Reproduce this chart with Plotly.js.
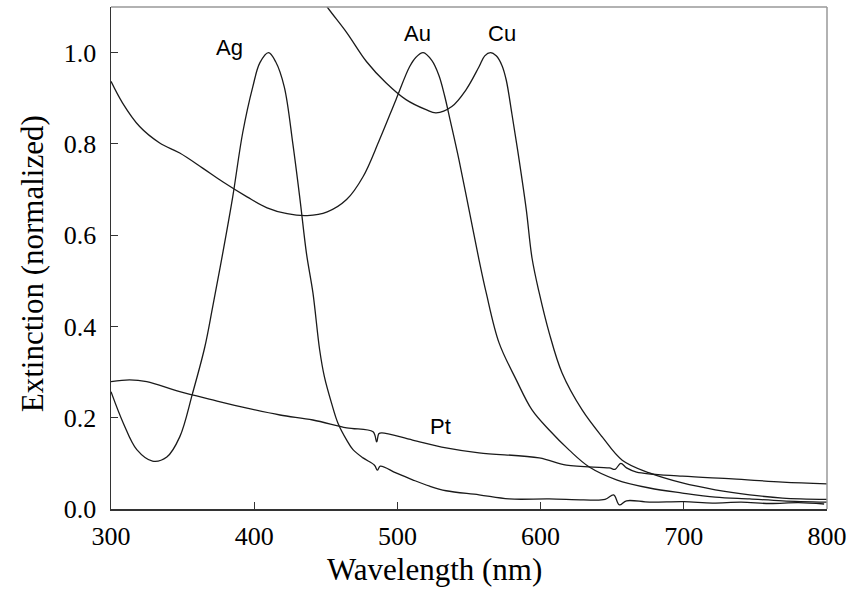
<!DOCTYPE html>
<html>
<head>
<meta charset="utf-8">
<script src="https://cdn.plot.ly/plotly-3.0.1.min.js"></script>
<style>html,body{margin:0;padding:0;background:#fff;}#chart{width:850px;height:594px;}</style>
</head>
<body>
<div id="chart"></div>
<script>
// Wavelength (nm) and normalized extinction for each metal
const agX = [300, 308.6, 318, 329, 339, 348, 357, 365.5, 371, 378, 385, 392, 399, 404, 410, 415, 421, 427, 432, 436.5, 441, 445.7, 449, 454, 458.5, 464.6, 469, 476, 484, 486, 488, 499, 510.6, 522.5, 534, 557, 578, 606, 630, 645, 651, 655, 660, 676, 700, 720, 740, 760, 780, 798];
const agY = [0.257, 0.188, 0.13, 0.105, 0.114, 0.158, 0.254, 0.355, 0.443, 0.56, 0.684, 0.825, 0.925, 0.978, 1.0, 0.98, 0.925, 0.80, 0.678, 0.56, 0.474, 0.349, 0.29, 0.232, 0.188, 0.151, 0.13, 0.112, 0.096, 0.085, 0.094, 0.079, 0.064, 0.05, 0.04, 0.031, 0.022, 0.022, 0.02, 0.021, 0.031, 0.009, 0.018, 0.015, 0.016, 0.013, 0.015, 0.012, 0.014, 0.011];

const auX = [300, 308, 320, 334, 348, 364, 378, 395, 409, 423, 437, 451, 464.5, 476, 487.5, 499, 508.5, 513, 518, 524, 529, 533, 537, 543, 550, 557, 562, 571, 583, 594, 606, 620, 634, 653, 676, 699, 722, 746, 769, 800];
const auY = [0.937, 0.89, 0.838, 0.802, 0.78, 0.747, 0.717, 0.684, 0.66, 0.647, 0.643, 0.651, 0.678, 0.728, 0.809, 0.897, 0.969, 0.99, 1.0, 0.983, 0.95, 0.905, 0.85, 0.765, 0.656, 0.546, 0.474, 0.364, 0.283, 0.217, 0.173, 0.129, 0.092, 0.064, 0.046, 0.035, 0.026, 0.022, 0.018, 0.015];

const cuX = [440, 451, 464.6, 478.5, 492, 506, 520, 527, 538, 548, 557, 561, 565, 569, 573, 576, 580, 585, 590, 594, 599, 606, 615, 629, 643, 657, 676, 699, 722, 746, 769, 800];
const cuY = [1.15, 1.10, 1.044, 0.98, 0.934, 0.897, 0.875, 0.868, 0.882, 0.919, 0.969, 0.993, 1.0, 0.993, 0.972, 0.94, 0.865, 0.765, 0.656, 0.55, 0.474, 0.386, 0.298, 0.217, 0.158, 0.107, 0.079, 0.057, 0.042, 0.031, 0.024, 0.021];

const ptX = [300, 313, 325, 348, 371, 395, 418, 441, 464.6, 483, 485.5, 487, 489, 510.6, 534, 557, 599, 618, 648, 652, 656, 660, 667, 699, 734, 769, 800];
const ptY = [0.279, 0.283, 0.279, 0.257, 0.239, 0.221, 0.206, 0.195, 0.178, 0.169, 0.147, 0.165, 0.167, 0.151, 0.134, 0.123, 0.112, 0.096, 0.09, 0.087, 0.10, 0.09, 0.081, 0.072, 0.066, 0.059, 0.055];

const labels = ["Ag", "Au", "Cu", "Pt"];
const labelX = [383, 514, 573, 530];
const labelY = [1.011, 1.042, 1.042, 0.18];

const xTicks = [300, 400, 500, 600, 700, 800];
const yTicks = [0.0, 0.2, 0.4, 0.6, 0.8, 1.0];

const lineStyle = {color: '#1a1a1a', width: 1.3, shape: 'spline', smoothing: 1};
const traces = [
  {x: agX, y: agY, name: 'Ag'},
  {x: auX, y: auY, name: 'Au'},
  {x: cuX, y: cuY, name: 'Cu'},
  {x: ptX, y: ptY, name: 'Pt'}
].map(t => Object.assign(t, {type: 'scatter', mode: 'lines', line: lineStyle, hoverinfo: 'skip'}));

const serif = 'Liberation Serif, Times New Roman, serif';
const annotations = labels.map((t, i) => ({
  x: labelX[i], y: labelY[i], xref: 'x', yref: 'y', text: t, showarrow: false,
  font: {family: 'Liberation Sans, Arial, sans-serif', size: 22, color: '#000'}
}));
annotations.push({
  x: 0.4525, y: -0.1215, xref: 'paper', yref: 'paper', xanchor: 'center', yanchor: 'middle',
  text: 'Wavelength (nm)', showarrow: false, font: {family: serif, size: 31, color: '#000'}
});
annotations.push({
  x: -0.110, y: 0.488, xref: 'paper', yref: 'paper', xanchor: 'center', yanchor: 'middle', textangle: -90,
  text: 'Extinction (normalized)', showarrow: false, font: {family: serif, size: 31, color: '#000'}
});

const layout = {
  width: 850, height: 594,
  margin: {l: 111, r: 23, t: 7, b: 85},
  paper_bgcolor: '#fff', plot_bgcolor: '#fff',
  showlegend: false,
  xaxis: {
    range: [300, 800], tickvals: xTicks, ticktext: xTicks.map(String),
    showgrid: false, zeroline: false, showline: true, linecolor: '#333', linewidth: 1.5,
    ticks: 'inside', ticklen: 7, tickcolor: '#333', tickwidth: 1, ticklabelstandoff: 3,
    tickfont: {family: serif, size: 26, color: '#000'}
  },
  yaxis: {
    range: [0, 1.1], tickvals: yTicks, ticktext: yTicks.map(v => v.toFixed(1)),
    showgrid: false, zeroline: false, showline: true, linecolor: '#333', linewidth: 1.5,
    ticks: 'inside', ticklen: 7, tickcolor: '#333', tickwidth: 1, ticklabelstandoff: 8,
    tickfont: {family: serif, size: 26, color: '#000'}
  },
  shapes: [
    {type: 'line', xref: 'paper', yref: 'paper', x0: 0, x1: 1, y0: 1, y1: 1, line: {color: '#999', width: 1.5}},
    {type: 'line', xref: 'paper', yref: 'paper', x0: 1, x1: 1, y0: 0, y1: 1, line: {color: '#999', width: 1.5}}
  ],
  annotations: annotations
};

Plotly.newPlot('chart', traces, layout, {displayModeBar: false, staticPlot: true});
</script>
</body>
</html>
